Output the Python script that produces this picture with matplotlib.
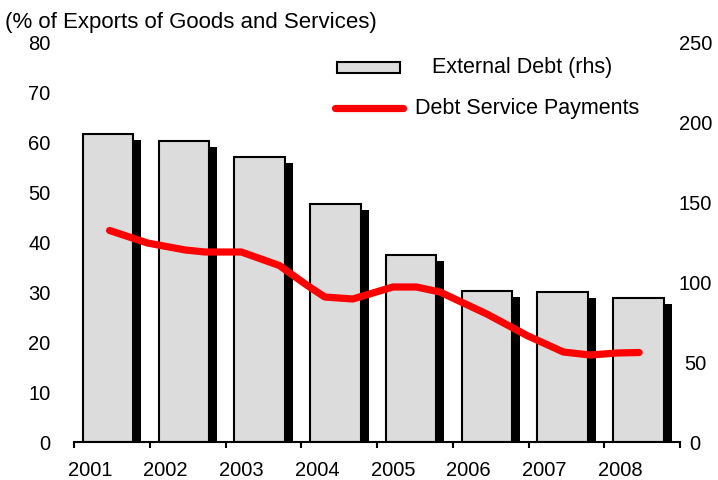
import matplotlib
matplotlib.use("Agg")
import matplotlib.pyplot as plt
from matplotlib import patheffects as pe
from matplotlib.patches import Rectangle
from matplotlib.lines import Line2D

plt.rcParams['font.family'] = ['Liberation Sans', 'DejaVu Sans']

# данные
years = [2001, 2002, 2003, 2004, 2005, 2006, 2007, 2008]
ext_debt = [192.5, 188.3, 178.3, 148.8, 117.0, 94.6, 93.5, 89.8]   # правая ось

# платежи по обслуживанию долга, % экспорта (левая ось)
dsp_t = [2000.97, 2001.47, 2001.97, 2002.23, 2002.71, 2003.21, 2003.58, 2003.81,
         2004.18, 2004.71, 2005.02, 2005.33, 2005.95, 2006.48, 2006.96, 2007.31,
         2007.67, 2007.96]
dsp = [42.3, 39.8, 38.4, 38.0, 38.0, 35.3, 31.3, 29.0,
       28.6, 31.0, 31.0, 30.0, 25.6, 21.3, 18.0, 17.4,
       17.8, 17.9]

left_ticks = [0, 10, 20, 30, 40, 50, 60, 70, 80]
right_ticks = [0, 50, 100, 150, 200, 250]

W, H = 718, 481
fig = plt.figure(figsize=(W / 100, H / 100), dpi=100)
ax = fig.add_axes([74 / W, 38 / H, 606 / W, 400 / H])
ax2 = ax.twinx()
ax.set_zorder(ax2.get_zorder() + 1)
ax.patch.set_visible(False)

# столбцы с тенью
bars = ax2.bar([y - 0.05 for y in years], ext_debt, width=0.665,
               color='#dcdcdc', edgecolor='black', linewidth=1.5)
for b in bars:
    b.set_path_effects([pe.SimplePatchShadow(offset=(5.8, -4.3), shadow_rgbFace='black', alpha=1.0),
                        pe.Normal()])

ax.plot(dsp_t, dsp, color='red', lw=5.2, solid_capstyle='round', solid_joinstyle='round')

ax.set_xlim(2000.5, 2008.5)
ax.set_ylim(0, 80)
ax2.set_ylim(0, 250)

for a in (ax, ax2):
    for s in ('top', 'left', 'right', 'bottom'):
        a.spines[s].set_visible(False)
ax.spines['bottom'].set_visible(True)
ax.spines['bottom'].set_linewidth(1.5)

ax.set_xticks([y - 0.29 for y in years], [str(y) for y in years], fontsize=14.5)
ax.set_xticks([y - 0.5 for y in years] + [2008.5], minor=True)
ax.tick_params(axis='x', which='major', length=0, pad=13)
ax.tick_params(axis='x', which='minor', length=4.3, width=1.5, direction='out')

ax.set_yticks(left_ticks, [str(v) for v in left_ticks], fontsize=14.5)
ax.tick_params(axis='y', length=0, pad=17)
ax2.set_yticks(right_ticks, [str(v) for v in right_ticks], fontsize=14.5, ha='center')
ax2.tick_params(axis='y', length=0, pad=11)

fig.text(5 / W, 1 - 28 / H, '(% of Exports of Goods and Services)', va='baseline', fontsize=16)

# легенда
fig.add_artist(Rectangle((337 / W, 1 - 74 / H), 63 / W, 11 / H, transform=fig.transFigure,
                         facecolor='#dcdcdc', edgecolor='black', linewidth=1.5))
fig.add_artist(Line2D([335 / W, 403 / W], [1 - 109 / H] * 2, transform=fig.transFigure,
                      color='red', lw=5.2, solid_capstyle='round'))
fig.text(432 / W, 1 - 68 / H, 'External Debt (rhs)', va='center', fontsize=15.5)
fig.text(415 / W, 1 - 109 / H, 'Debt Service Payments', va='center', fontsize=15.5)

fig.savefig('out.png', dpi=100)
